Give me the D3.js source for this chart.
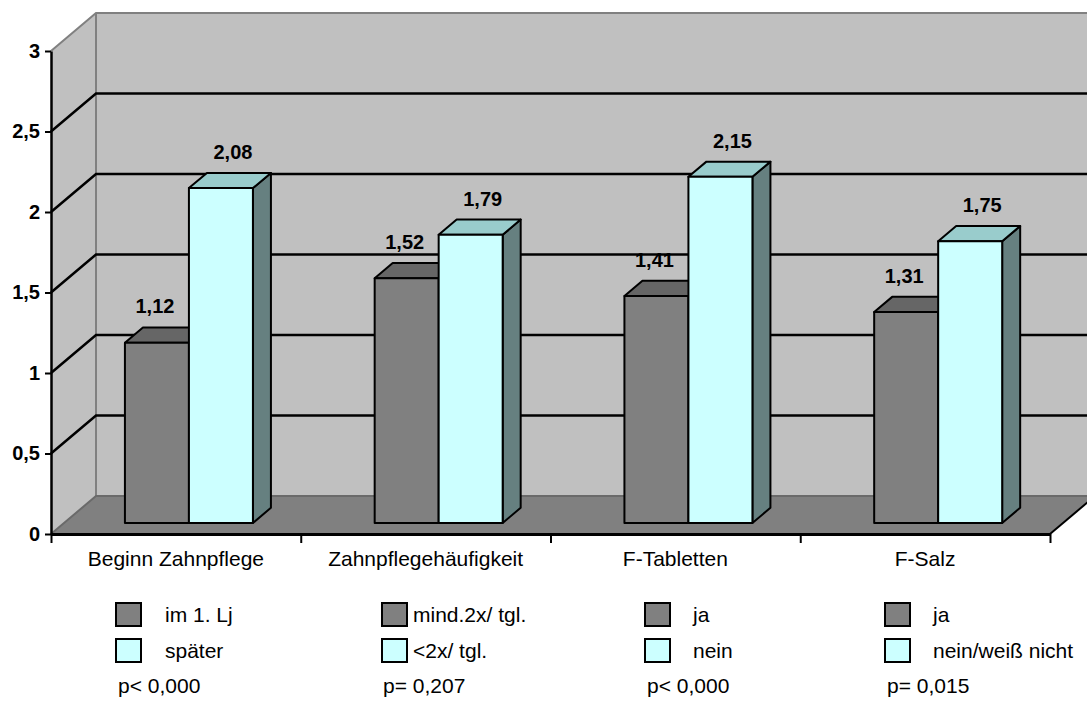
<!DOCTYPE html>
<html>
<head>
<meta charset="utf-8">
<script src="https://cdn.jsdelivr.net/npm/d3@7"></script>
<style>
  html, body { margin: 0; padding: 0; background: #ffffff; }
  svg { display: block; font-family: "Liberation Sans", Arial, sans-serif; }
</style>
</head>
<body>
<svg id="chart" width="1087" height="705"></svg>
<script>
// Chart data
const categories = ["Beginn Zahnpflege", "Zahnpflegehäufigkeit", "F-Tabletten", "F-Salz"];
const seriesKeys = ["first", "second"];
const valuesFirst = [1.12, 1.52, 1.41, 1.31];
const valuesSecond = [2.08, 1.79, 2.15, 1.75];
const legendFirst = ["im 1. Lj", "mind.2x/ tgl.", "ja", "ja"];
const legendSecond = ["später", "<2x/ tgl.", "nein", "nein/weiß nicht"];
const pValues = ["p< 0,000", "p= 0,207", "p< 0,000", "p= 0,015"];
const yTicks = [0, 0.5, 1, 1.5, 2, 2.5, 3];

const svg = d3.select("#chart");

// Front plane of the 3D box and its depth offset
const plotLeft = 51, plotRight = 1050, plotBottom = 534, plotTop = 51;
const depthX = 45, depthY = 38;
const barZ0 = 0.29, barZ1 = 0.69;

const y = d3.scaleLinear().domain([0, 3]).range([plotBottom, plotTop]);
const xCat = d3.scaleBand().domain(categories).range([plotLeft, plotRight]).padding(0);
const groupW = xCat.bandwidth() * 0.5125;
const xSer = d3.scaleBand().domain(seriesKeys).range([-groupW / 2, groupW / 2]).padding(0);
const xEdge = d3.scaleLinear().domain([0, categories.length]).range([plotLeft, plotRight]);

const proj = (px, v, z) => [px + z * depthX, y(v) - z * depthY];
const poly = pts => "M" + pts.map(p => p.join(",")).join("L") + "Z";
const line = pts => "M" + pts.map(p => p.join(",")).join("L");

const comma = d3.formatLocale({ decimal: ",", thousands: ".", grouping: [3], currency: ["", "€"] });
const fmtVal = comma.format(".2f");
const fmtTick = v => String(v).replace(".", ",");

// Walls and floor
const walls = svg.append("g");
walls.append("path")
  .attr("d", poly([proj(plotLeft, 0, 1), proj(plotRight, 0, 1), proj(plotRight, 3, 1), proj(plotLeft, 3, 1)]))
  .attr("fill", "#c0c0c0");
walls.append("path")
  .attr("d", poly([proj(plotLeft, 0, 0), proj(plotLeft, 0, 1), proj(plotLeft, 3, 1), proj(plotLeft, 3, 0)]))
  .attr("fill", "#c0c0c0");
walls.append("path")
  .attr("d", poly([proj(plotLeft, 0, 0), proj(plotRight, 0, 0), proj(plotRight, 0, 1), proj(plotLeft, 0, 1)]))
  .attr("fill", "#808080");

// Wall edges
const edge = (pts, color, w) => walls.append("path").attr("d", line(pts))
  .attr("fill", "none").attr("stroke", color).attr("stroke-width", w);
edge([proj(plotLeft, 3, 0), proj(plotLeft, 3, 1), proj(plotRight + 60, 3, 1)], "#808080", 2);
edge([proj(plotLeft, 3, 1), proj(plotLeft, 0, 1)], "#808080", 2);
edge([proj(plotLeft, 0, 0), proj(plotLeft, 0, 1), proj(plotRight, 0, 1)], "#6a6a6a", 2);
edge([proj(plotRight, 0, 0), proj(plotRight, 0, 1)], "#000000", 2);

// Gridlines on side wall and back wall
yTicks.filter(v => v > 0 && v < 3).forEach(v => {
  walls.append("path")
    .attr("d", line([proj(plotLeft, v, 0), proj(plotLeft, v, 1), proj(plotRight, v, 1)]))
    .attr("fill", "none").attr("stroke", "#000").attr("stroke-width", 2.5);
});

// Bars
const colors = {
  first: { front: "#808080", top: "#666666", side: "#4d4d4d" },
  second: { front: "#ccffff", top: "#99cccc", side: "#668080" }
};
const bars = svg.append("g");
categories.forEach((c, i) => {
  [["first", valuesFirst[i]], ["second", valuesSecond[i]]].forEach(([key, v]) => {
    const xl = xCat(c) + xCat.bandwidth() / 2 + xSer(key);
    const xr = xl + xSer.bandwidth();
    const col = colors[key];
    const g = bars.append("g").attr("stroke", "#000").attr("stroke-width", 2).attr("stroke-linejoin", "round");
    g.append("path").attr("fill", col.side)
      .attr("d", poly([proj(xr, 0, barZ0), proj(xr, 0, barZ1), proj(xr, v, barZ1), proj(xr, v, barZ0)]));
    g.append("path").attr("fill", col.top)
      .attr("d", poly([proj(xl, v, barZ0), proj(xr, v, barZ0), proj(xr, v, barZ1), proj(xl, v, barZ1)]));
    g.append("path").attr("fill", col.front)
      .attr("d", poly([proj(xl, 0, barZ0), proj(xr, 0, barZ0), proj(xr, v, barZ0), proj(xl, v, barZ0)]));
    const fc = proj((xl + xr) / 2, v, barZ1);
    bars.append("text")
      .attr("x", (xl + xr) / 2 + barZ0 * depthX + (key === "first" ? -2 : 12))
      .attr("y", fc[1] - 14)
      .attr("text-anchor", "middle")
      .attr("font-size", 20).attr("font-weight", "bold").attr("fill", "#000")
      .text(fmtVal(v));
  });
});

// Value axis
const yAxis = svg.append("g").attr("transform", `translate(${plotLeft},0)`)
  .call(d3.axisLeft(y).tickValues(yTicks).tickSize(6).tickSizeOuter(0).tickPadding(5).tickFormat(fmtTick));
yAxis.select(".domain").attr("stroke", "#000").attr("stroke-width", 2.5);
yAxis.selectAll(".tick line").attr("stroke", "#000").attr("stroke-width", 2);
yAxis.selectAll(".tick text").attr("font-size", 20).attr("font-weight", "bold")
  .attr("font-family", "Liberation Sans, Arial, sans-serif").attr("fill", "#000");

// Category axis: boundaries with ticks, labels at category centers
const xTicks = svg.append("g").attr("transform", `translate(0,${plotBottom})`)
  .call(d3.axisBottom(xEdge).tickValues(d3.range(categories.length + 1)).tickSize(9).tickSizeOuter(0).tickFormat(""));
xTicks.select(".domain").attr("stroke", "#000").attr("stroke-width", 3);
xTicks.selectAll(".tick line").attr("stroke", "#000").attr("stroke-width", 2);

const xLabels = svg.append("g").attr("transform", `translate(0,${plotBottom})`)
  .call(d3.axisBottom(xCat).tickSize(0).tickPadding(17));
xLabels.select(".domain").remove();
xLabels.selectAll(".tick text").attr("font-size", 21)
  .attr("font-family", "Liberation Sans, Arial, sans-serif").attr("fill", "#000");

// Legend blocks below each category
const legendSquareX = [116, 382, 645, 885];
const legendTextX = [165, 413, 693, 933];
const legendPX = [118, 383, 647, 887];
const legend = svg.append("g");
categories.forEach((c, i) => {
  [[legendFirst[i], colors.first.front, 603], [legendSecond[i], colors.second.front, 639]].forEach(([label, fill, top]) => {
    legend.append("rect").attr("x", legendSquareX[i]).attr("y", top).attr("width", 25).attr("height", 23)
      .attr("fill", fill).attr("stroke", "#000").attr("stroke-width", 2);
    legend.append("text").attr("x", legendTextX[i]).attr("y", top + 11.5).attr("dy", "0.35em")
      .attr("font-size", 21).attr("fill", "#000").text(label);
  });
  legend.append("text").attr("x", legendPX[i]).attr("y", 686).attr("dy", "0.35em")
    .attr("font-size", 21).attr("fill", "#000").text(pValues[i]);
});
</script>
</body>
</html>
